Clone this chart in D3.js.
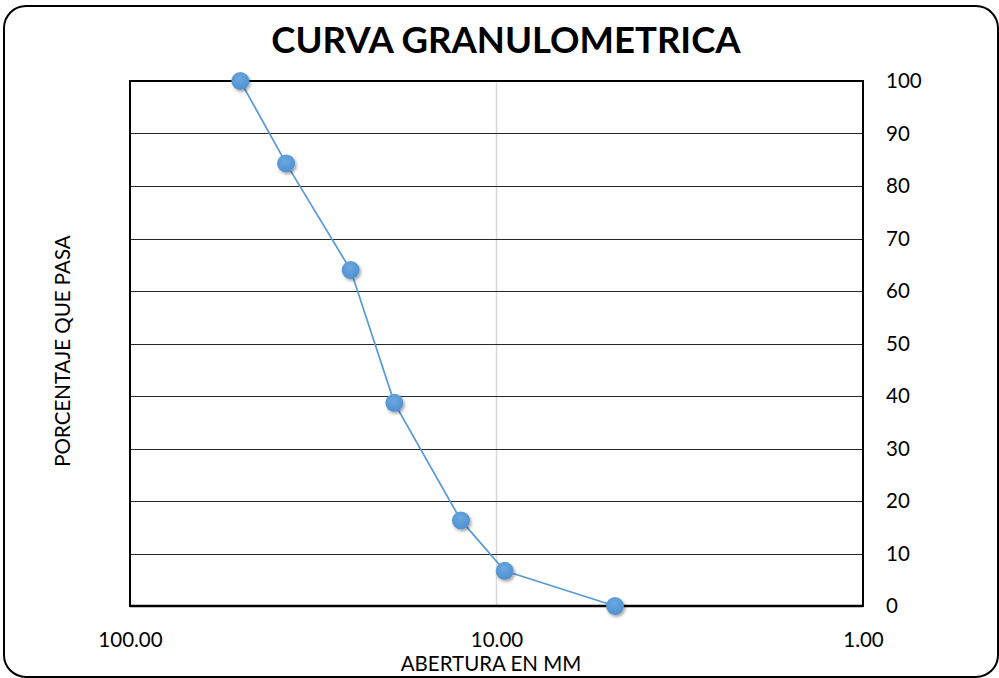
<!DOCTYPE html>
<html>
<head>
<meta charset="utf-8">
<script src="https://cdn.jsdelivr.net/npm/d3@7"></script>
<style>
  html, body { margin: 0; padding: 0; background: #fff; }
  svg { display: block; font-family: Lato, "Open Sans", sans-serif; }
</style>
</head>
<body>
<div id="chart"></div>
<script>
// sieve opening (mm) and percent passing
const abertura = [50, 37.5, 25, 19, 12.5, 9.5, 4.75]
const pasa = [100, 84.3, 64, 38.7, 16.3, 6.7, 0]
const xTicks = [100, 10, 1]
const yTicks = [0, 10, 20, 30, 40, 50, 60, 70, 80, 90, 100]

const W = 999, H = 678
const margin = {top: 81, right: 136, bottom: 72, left: 130}
const width = W - margin.left - margin.right
const height = H - margin.top - margin.bottom

const root = d3.select("#chart")
  .append("svg")
    .attr("width", W)
    .attr("height", H)

const defs = root.append("defs")
const shadow = defs.append("filter")
    .attr("id", "shadow")
    .attr("x", "-50%").attr("y", "-50%")
    .attr("width", "200%").attr("height", "200%")
shadow.append("feDropShadow")
    .attr("dx", 1.5).attr("dy", 2)
    .attr("stdDeviation", 1.8)
    .attr("flood-color", "#000")
    .attr("flood-opacity", 0.35)

const grad = defs.append("radialGradient")
    .attr("id", "dot")
    .attr("cx", "45%").attr("cy", "35%").attr("r", "65%")
grad.append("stop").attr("offset", "0%").attr("stop-color", "#6aa8e0")
grad.append("stop").attr("offset", "100%").attr("stop-color", "#4f90cf")

// outer rounded frame
root.append("rect")
    .attr("x", 4).attr("y", 6)
    .attr("width", 994).attr("height", 671)
    .attr("rx", 22)
    .style("fill", "none")
    .style("stroke", "#000")
    .style("stroke-width", 2)

// title
root.append("text")
    .attr("x", 506)
    .attr("y", 53)
    .attr("text-anchor", "middle")
    .style("font-weight", "bold")
    .style("font-size", "36.5px")
    .text("CURVA GRANULOMETRICA")

const svg = root.append("g")
    .attr("transform", "translate(" + margin.left + "," + margin.top + ")")

const x = d3.scaleLog()
  .domain([100, 1])
  .range([0, width])

const y = d3.scaleLinear()
  .domain([0, 100])
  .range([height, 0])

// vertical grid (light)
svg.append("g")
  .selectAll("line")
  .data(xTicks)
  .enter()
  .append("line")
    .attr("x1", d => x(d)).attr("x2", d => x(d))
    .attr("y1", 0).attr("y2", height)
    .style("stroke", "#d9d9d9")
    .style("stroke-width", 1.5)

// horizontal grid
svg.append("g")
  .selectAll("line")
  .data(yTicks)
  .enter()
  .append("line")
    .attr("x1", 0).attr("x2", width)
    .attr("y1", d => Math.round(y(d)) + 0.5).attr("y2", d => Math.round(y(d)) + 0.5)
    .style("stroke", "#262626")
    .style("stroke-width", 1)

// plot frame
svg.append("rect")
    .attr("x", 0).attr("y", 0)
    .attr("width", width).attr("height", height)
    .style("fill", "none")
    .style("stroke", "#000")
    .style("stroke-width", 2)

svg.append("line")
    .attr("x1", 0).attr("x2", width)
    .attr("y1", height).attr("y2", height)
    .style("stroke", "#000")
    .style("stroke-width", 2.5)

// x axis labels
const xAxis = svg.append("g")
    .attr("transform", "translate(0," + height + ")")
    .call(d3.axisBottom(x).tickValues(xTicks).tickSize(0).tickPadding(26).tickFormat(d3.format(".2f")))
xAxis.select(".domain").remove()
xAxis.selectAll("text")
    .attr("fill", "#000")
    .style("font-family", "Lato, sans-serif")
    .style("font-size", "20.5px")

// y axis labels on the right
const yAxis = svg.append("g")
    .attr("transform", "translate(" + width + ",0)")
    .call(d3.axisRight(y).tickValues(yTicks).tickSize(0).tickPadding(23))
yAxis.select(".domain").remove()
yAxis.selectAll("text")
    .attr("fill", "#000")
    .style("font-family", "Lato, sans-serif")
    .style("font-size", "20.5px")

// axis titles
root.append("text")
    .attr("x", 491)
    .attr("y", 671)
    .attr("text-anchor", "middle")
    .style("font-size", "20.5px")
    .text("ABERTURA EN MM")

root.append("text")
    .attr("transform", "translate(70,351) rotate(-90)")
    .attr("text-anchor", "middle")
    .style("font-size", "20.5px")
    .text("PORCENTAJE QUE PASA")

// curve
const data = abertura.map((d, i) => ({x: d, y: pasa[i]}))

svg.append("path")
    .datum(data)
    .attr("d", d3.line().x(d => x(d.x)).y(d => y(d.y)))
    .style("fill", "none")
    .style("stroke", "#5b9bd5")
    .style("stroke-width", 1.75)

svg.append("g")
  .selectAll("circle")
  .data(data)
  .enter()
  .append("circle")
    .attr("cx", d => x(d.x))
    .attr("cy", d => y(d.y))
    .attr("r", 9)
    .style("fill", "url(#dot)")
    .style("filter", "url(#shadow)")
</script>
</body>
</html>
